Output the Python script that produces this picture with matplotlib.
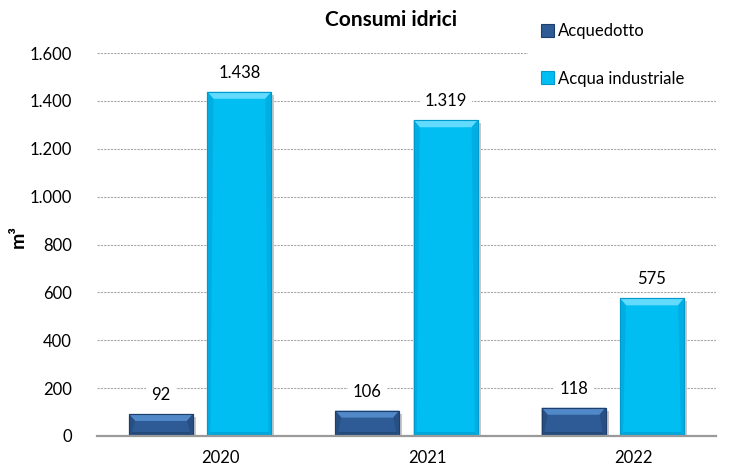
import matplotlib
matplotlib.use("Agg")
import matplotlib.pyplot as plt
from matplotlib.patches import Rectangle, Polygon
import numpy as np

years = ["2020", "2021", "2022"]
acquedotto = [92, 106, 118]
acqua_industriale = [1438, 1319, 575]
series_names = ["Acquedotto", "Acqua industriale"]
yticks = [0, 200, 400, 600, 800, 1000, 1200, 1400, 1600]

plt.rcParams['font.family'] = ['Lato', 'DejaVu Sans']

fig = plt.figure(figsize=(7.31, 4.74), dpi=100)
ax = fig.add_axes([97/731, 38/474, (716-97)/731, (436-53)/474])
ax.set_xlim(-0.5, 2.5)
ax.set_ylim(0, 1600)

x = np.arange(len(years))
w = 0.31
off = 0.19
c1, e1, t1, s1 = "#2E5B95", "#1E3F6C", "#5088C8", "#274F83"
c2, e2, t2, s2 = "#00BDF2", "#0099CC", "#62DBFF", "#00AEE4"
b1 = ax.bar(x - off, acquedotto, w, color=c1, edgecolor=e1, linewidth=0.8, zorder=3, label=series_names[0])
b2 = ax.bar(x + off, acqua_industriale, w, color=c2, edgecolor=e2, linewidth=0.8, zorder=3, label=series_names[1])

# bevel effect
px_x = 1.0 / (ax.transData.transform((1, 0))[0] - ax.transData.transform((0, 0))[0])
px_y = 1.0 / (ax.transData.transform((0, 1))[1] - ax.transData.transform((0, 0))[1])
for bars, top_c, side_c, edge_c in ((b1, t1, s1, e1), (b2, t2, s2, e2)):
    for r in bars:
        x0, x1 = r.get_x(), r.get_x() + r.get_width()
        y0, y1 = 0, r.get_height()
        bx, by = 6 * px_x, 7 * px_y
        sx = 3 * px_x
        bb = 4 * px_y
        ax.add_patch(Rectangle((x1, y0), 3 * px_x, y1 - 3 * px_y, color="#C8C8C8", zorder=2.5, lw=0))
        ax.add_patch(Polygon([(x0, y1), (x1, y1), (x1 - bx, y1 - by), (x0 + bx, y1 - by)],
                             closed=True, fc=top_c, ec="none", zorder=3.1))
        ax.add_patch(Polygon([(x0, y0), (x0, y1), (x0 + bx, y1 - by), (x0 + sx, y0 + bb)],
                             closed=True, fc=side_c, ec="none", zorder=3.1))
        ax.add_patch(Polygon([(x1, y0), (x1, y1), (x1 - bx, y1 - by), (x1 - sx, y0 + bb)],
                             closed=True, fc=side_c, ec="none", zorder=3.1))
        ax.add_patch(Polygon([(x0, y0), (x1, y0), (x1 - sx, y0 + bb), (x0 + sx, y0 + bb)],
                             closed=True, fc=edge_c, ec="none", alpha=0.6, zorder=3.1))
        ax.add_patch(Rectangle((x0, y0), x1 - x0, y1 - y0, fill=False, ec=edge_c, lw=0.8, zorder=3.2))

def fmt(v):
    return f"{v:,}".replace(",", ".")

for bars, vals in ((b1, acquedotto), (b2, acqua_industriale)):
    for r, v in zip(bars, vals):
        ax.annotate(fmt(v), (r.get_x() + r.get_width()/2, v), xytext=(0, 8),
                    textcoords="offset points", ha="center", va="bottom",
                    fontsize=12, zorder=5,
                    bbox=dict(boxstyle="square,pad=0.3", fc="white", ec="none"))

ax.set_yticks(yticks)
ax.set_yticklabels([fmt(v) for v in yticks], fontsize=12)
ax.set_xticks(x + 0.1)
ax.set_xticklabels(years, fontsize=12)
ax.tick_params(axis="y", length=0, pad=18)
ax.tick_params(axis="x", length=0, pad=10)
ax.yaxis.grid(True, color="#A8A8A8", linestyle=(0, (2, 1)), linewidth=0.8, zorder=0)
ax.set_axisbelow(True)
for s in ("top", "right", "left"):
    ax.spines[s].set_visible(False)
ax.spines["bottom"].set_color("#9A9A9A")
ax.spines["bottom"].set_linewidth(1.6)
ax.spines["bottom"].set_zorder(4)

fig.text(18/731, 1 - 236/474, "m³", rotation=90, fontsize=14,
         fontweight="bold", ha="center", va="center")
fig.text(391/731, 1 - 20/474, "Consumi idrici", fontsize=15, fontweight="bold",
         ha="center", va="center")

fig.add_artist(Rectangle((528/731, 1 - 92/474), 203/731, 92/474, transform=fig.transFigure,
                         fc="white", ec="none", zorder=2))

leg = fig.legend(handles=[b1, b2], loc="upper left", bbox_to_anchor=(526/731, 1 - 8/474),
                 frameon=False, fontsize=12, handlelength=0.8, handleheight=0.8,
                 handletextpad=0.2, labelspacing=1.9, borderpad=0.4)
leg.set_zorder(3)

fig.savefig("out.png", dpi=100)
